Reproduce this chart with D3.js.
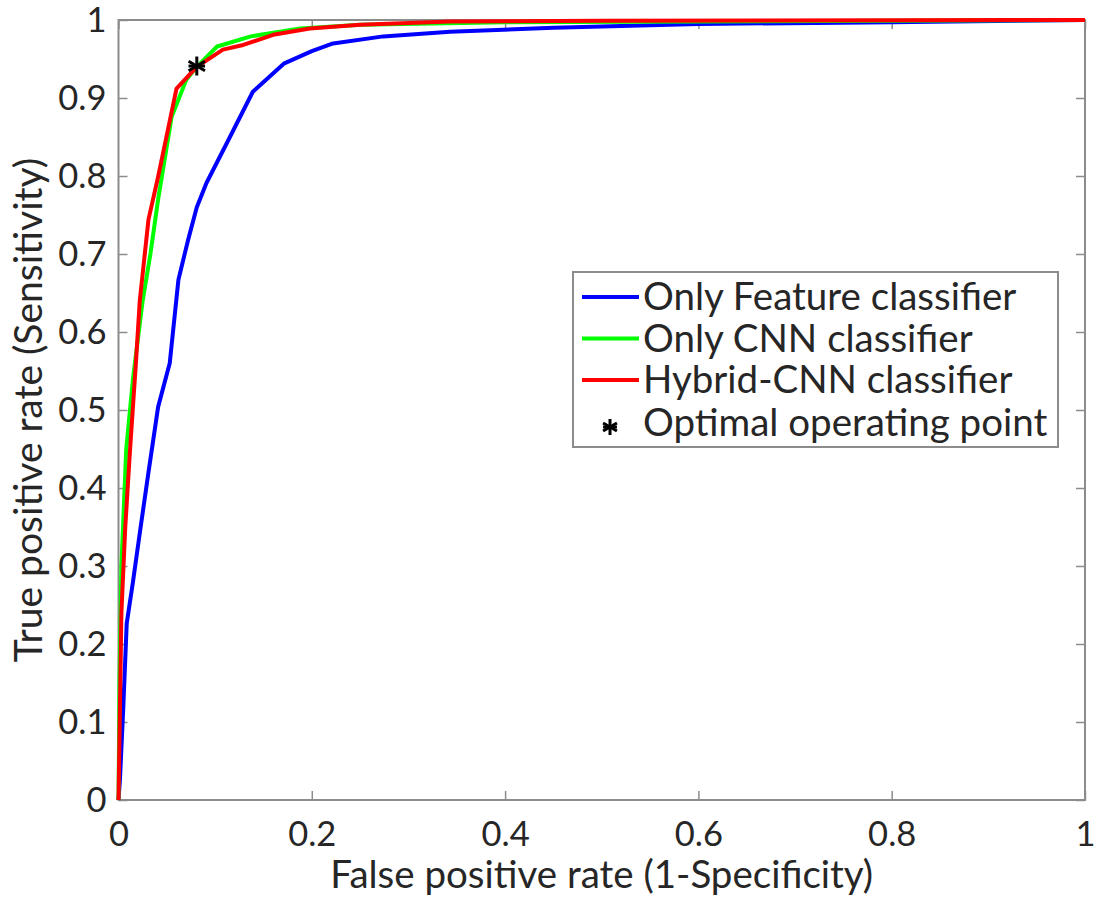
<!DOCTYPE html>
<html>
<head>
<meta charset="utf-8">
<script src="https://cdn.jsdelivr.net/npm/d3@7"></script>
<style>
    body { margin: 0; background: #fff; }
    svg text { font-family: Lato, "Open Sans", sans-serif; fill: #262626; }
</style>
</head>
<body>
<div id="chart"></div>
<script>
// ROC curves: [false positive rate, true positive rate]
var featureRoc = [[0,0],[0.0015,0.026],[0.005,0.12],[0.0085,0.2265],[0.015,0.28],[0.022,0.342],[0.031,0.42],
    [0.041,0.504],[0.053,0.56],[0.062,0.667],[0.072,0.718],[0.081,0.76],[0.091,0.791],[0.112,0.842],[0.139,0.908],
    [0.171,0.944],[0.2,0.96],[0.222,0.97],[0.274,0.979],[0.343,0.985],[0.45,0.99],[0.6,0.995],[0.8,0.997],[1,1]];
var cnnRoc = [[0,0],[0.001,0.15],[0.003,0.3],[0.008,0.45],[0.015,0.54],[0.025,0.64],[0.033,0.7],[0.041,0.77],
    [0.055,0.876],[0.07,0.923],[0.081,0.94],[0.102,0.966],[0.137,0.979],[0.188,0.989],[0.25,0.994],[0.4,0.997],
    [0.6,0.998],[1,1]];
var hybridRoc = [[0,0],[0.003,0.24],[0.007,0.35],[0.012,0.45],[0.018,0.56],[0.022,0.64],[0.031,0.744],[0.041,0.799],
    [0.06,0.912],[0.081,0.94],[0.108,0.962],[0.129,0.968],[0.16,0.981],[0.198,0.989],[0.25,0.994],[0.343,0.998],
    [0.5,0.999],[1,1]];
var optimalPoint = [0.081, 0.941];

var seriesNames = ["Only Feature classifier", "Only CNN classifier", "Hybrid-CNN classifier"];
var seriesColors = ["#0000ff", "#00ff00", "#ff0000"];
var pointName = "Optimal operating point";
var xTicks = [0, 0.2, 0.4, 0.6, 0.8, 1];
var yTicks = [0, 0.1, 0.2, 0.3, 0.4, 0.5, 0.6, 0.7, 0.8, 0.9, 1];
var xTitle = "False positive rate (1-Specificity)";
var yTitle = "True positive rate (Sensitivity)";

var W = 1097, H = 901;
var margin = { top: 20, right: 12, bottom: 101, left: 118.5 };
var width = W - margin.left - margin.right,
    height = H - margin.top - margin.bottom;
var tickLen = 9, axisColor = "#8c8c8c";

var svg = d3.select("#chart").append("svg")
    .attr("width", W)
    .attr("height", H);

var g = svg.append("g")
    .attr("transform", "translate(" + margin.left + "," + margin.top + ")");

var x = d3.scaleLinear().domain([0, 1]).range([0, width]);
var y = d3.scaleLinear().domain([0, 1]).range([height, 0]);

// box
g.append("rect")
    .attr("width", width).attr("height", height)
    .attr("fill", "none").attr("stroke", axisColor).attr("stroke-width", 2);

// ticks pointing inward on all four sides
function fmt(d) { return d === 0 || d === 1 ? String(d) : d3.format(".1f")(d); }

g.append("g")
    .attr("transform", "translate(0," + height + ")")
    .call(d3.axisBottom(x).tickValues(xTicks).tickSize(-tickLen).tickPadding(22).tickFormat(fmt));
g.append("g")
    .call(d3.axisTop(x).tickValues(xTicks).tickSize(-tickLen).tickFormat(""));
g.append("g")
    .call(d3.axisLeft(y).tickValues(yTicks).tickSize(-tickLen).tickPadding(12).tickFormat(fmt));
g.append("g")
    .attr("transform", "translate(" + width + ",0)")
    .call(d3.axisRight(y).tickValues(yTicks).tickSize(-tickLen).tickFormat(""));

g.selectAll(".domain").remove();
g.selectAll(".tick line").attr("stroke", axisColor).attr("stroke-width", 1.5);
g.selectAll(".tick text").style("font-size", "34.5px").attr("fill", "#262626");

// axis titles
svg.append("text")
    .attr("x", margin.left + width / 2).attr("y", 888)
    .attr("text-anchor", "middle")
    .style("font-size", "38.5px")
    .text(xTitle);
svg.append("text")
    .attr("transform", "translate(42," + (margin.top + height / 2) + ") rotate(-90)")
    .attr("text-anchor", "middle")
    .style("font-size", "39px")
    .text(yTitle);

// curves
var line = d3.line()
    .x(function (d) { return x(d[0]); })
    .y(function (d) { return y(d[1]); });

[featureRoc, cnnRoc, hybridRoc].forEach(function (data, i) {
    g.append("path")
        .datum(data)
        .attr("fill", "none")
        .attr("stroke", seriesColors[i])
        .attr("stroke-width", 4)
        .attr("stroke-linejoin", "round")
        .attr("d", line);
});

// asterisk marker
function asterisk(sel, cx, cy, r) {
    var a = sel.append("g").attr("transform", "translate(" + cx + "," + cy + ")");
    [0, 60, 120].forEach(function (ang) {
        a.append("line")
            .attr("x1", 0).attr("y1", -r).attr("x2", 0).attr("y2", r)
            .attr("transform", "rotate(" + ang + ")")
            .attr("stroke", "#000").attr("stroke-width", 3);
    });
    a.append("line").attr("x1", -r * 0.87).attr("x2", r * 0.87).attr("y1", 0).attr("y2", 0)
        .attr("stroke", "#000").attr("stroke-width", 3);
}
asterisk(g, x(optimalPoint[0]), y(optimalPoint[1]), 9.5);

// legend
var lx = 573, ly = 272, lw = 485, lh = 175;
var legend = svg.append("g");
legend.append("rect")
    .attr("x", lx).attr("y", ly).attr("width", lw).attr("height", lh)
    .attr("fill", "#fff").attr("stroke", axisColor).attr("stroke-width", 2);

var rowY = [297, 338.5, 380, 423];
seriesNames.forEach(function (name, i) {
    legend.append("line")
        .attr("x1", 582).attr("x2", 639).attr("y1", rowY[i]).attr("y2", rowY[i])
        .attr("stroke", seriesColors[i]).attr("stroke-width", 4);
    legend.append("text")
        .attr("x", 643).attr("y", rowY[i]).attr("dy", "0.35em")
        .style("font-size", "38.5px")
        .text(name);
});
asterisk(legend, 610, rowY[3] + 4, 8);
legend.append("text")
    .attr("x", 643).attr("y", rowY[3]).attr("dy", "0.35em")
    .style("font-size", "38.5px")
    .text(pointName);
</script>
</body>
</html>
